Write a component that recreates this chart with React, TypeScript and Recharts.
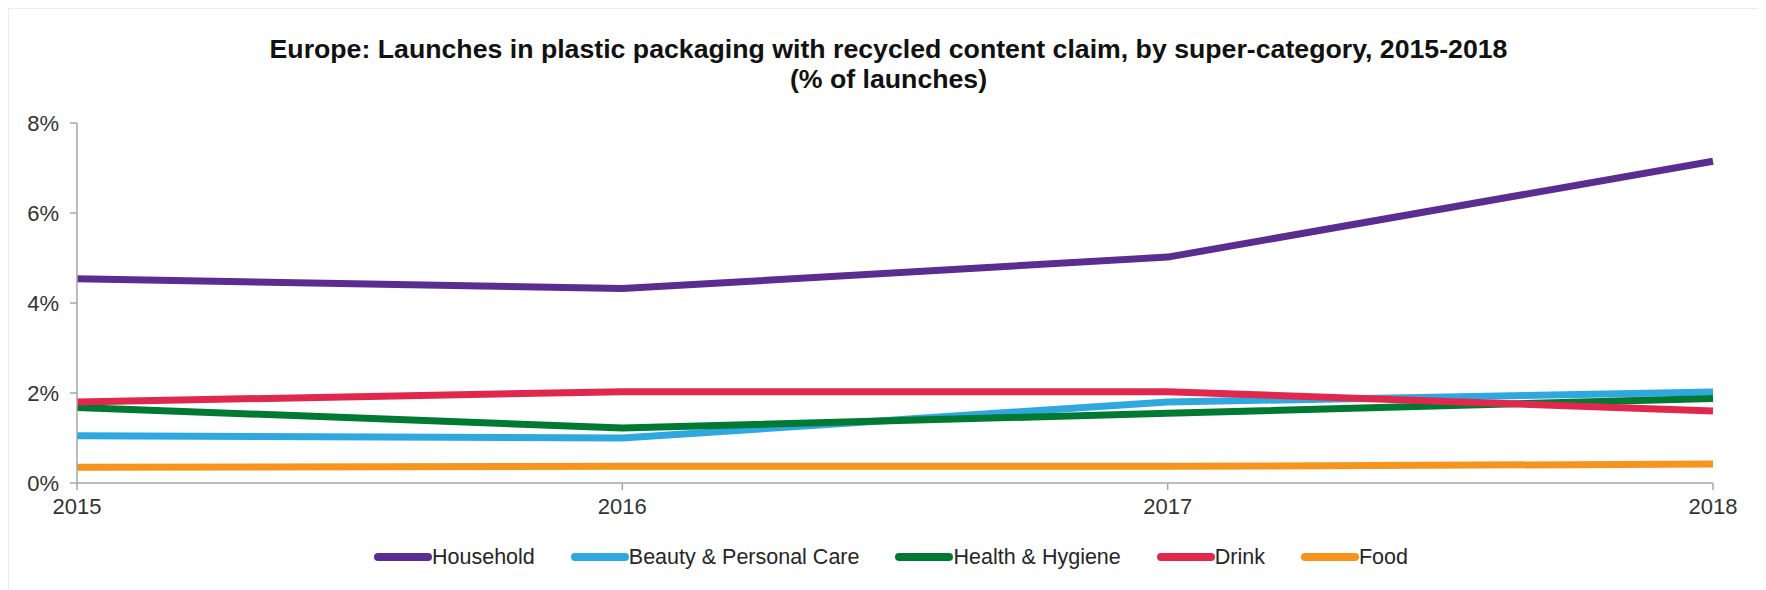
import { CartesianGrid, Legend, Line, LineChart, XAxis, YAxis } from "recharts"

const years = ["2015", "2016", "2017", "2018"]

const household = [4.54, 4.32, 5.02, 7.15]
const beauty = [1.05, 1.0, 1.8, 2.02]
const health = [1.68, 1.22, 1.55, 1.88]
const drink = [1.8, 2.03, 2.03, 1.6]
const food = [0.35, 0.37, 0.37, 0.42]

const yTicks = [0, 2, 4, 6, 8]

const series = [
  { key: "household", name: "Household", color: "#5c2d91", values: household },
  { key: "beauty", name: "Beauty & Personal Care", color: "#2fa8e0", values: beauty },
  { key: "health", name: "Health & Hygiene", color: "#007a33", values: health },
  { key: "drink", name: "Drink", color: "#e0284f", values: drink },
  { key: "food", name: "Food", color: "#f7941d", values: food },
]

const data = years.map((year, i) => {
  const row: Record<string, string | number> = { year }
  series.forEach((s) => {
    row[s.key] = s.values[i]
  })
  return row
})

const FONT = "'Liberation Sans', Arial, sans-serif"

const LegendContent = () => (
  <div
    style={{
      display: "flex",
      justifyContent: "center",
      alignItems: "center",
      gap: 36,
      paddingLeft: 16,
      fontFamily: FONT,
      fontSize: 21.5,
      color: "#262626",
      height: 24,
    }}
  >
    {series.map((s) => (
      <div key={s.key} style={{ display: "flex", alignItems: "center" }}>
        <svg width={58} height={10}>
          <line x1={4} y1={5} x2={54} y2={5} stroke={s.color} strokeWidth={8} strokeLinecap="round" />
        </svg>
        <span>{s.name}</span>
      </div>
    ))}
  </div>
)

export default function App() {
  return (
    <div
      style={{
        position: "relative",
        width: 1750,
        height: 582,
        borderTop: "1px solid #ececec",
        borderLeft: "1px solid #ececec",
        boxSizing: "border-box",
        fontFamily: FONT,
      }}
    >
      <div
        style={{
          position: "absolute",
          top: 25,
          left: 0,
          width: 1759,
          textAlign: "center",
          fontWeight: "bold",
          fontSize: 26.7,
          lineHeight: "30px",
          color: "#111",
        }}
      >
        Europe: Launches in plastic packaging with recycled content claim, by super-category, 2015-2018
        <br />
        (% of launches)
      </div>
      <LineChart
        width={1750}
        height={582}
        data={data}
        margin={{ top: 115, right: 45, left: 0, bottom: 77 }}
        style={{ position: "absolute", top: -1, left: -1 }}
      >
        <CartesianGrid horizontal={false} vertical={false} />
        <XAxis
          dataKey="year"
          height={30}
          stroke="#a6a6a6"
          strokeWidth={1.5}
          tickSize={7}
          tickMargin={8}
          tick={{ fill: "#333", fontSize: 22, fontFamily: FONT }}
        />
        <YAxis
          width={69}
          domain={[0, 8]}
          ticks={yTicks}
          tickFormatter={(v: number) => `${v}%`}
          stroke="#a6a6a6"
          strokeWidth={1.5}
          tickSize={7}
          tickMargin={11}
          tick={{ fill: "#333", fontSize: 22, fontFamily: FONT }}
        />
        <Legend
          layout="horizontal"
          verticalAlign="middle"
          align="center"
          wrapperStyle={{ top: 537, left: 0, width: 1750 }}
          content={<LegendContent />}
        />
        {series.map((s) => (
          <Line
            key={s.key}
            type="linear"
            dataKey={s.key}
            name={s.name}
            stroke={s.color}
            strokeWidth={7}
            strokeLinejoin="round"
            dot={false}
            activeDot={false}
            isAnimationActive={false}
          />
        ))}
      </LineChart>
    </div>
  )
}
